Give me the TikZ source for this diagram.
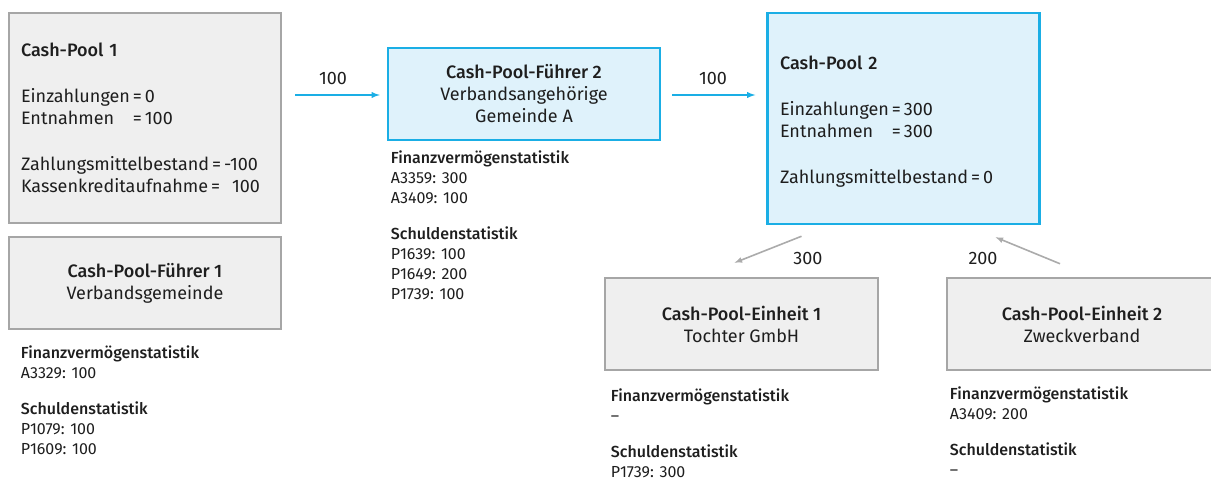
\documentclass[tikz,border=0pt]{standalone}
\usepackage{fontspec}
\setmainfont{Fira Sans}[BoldFont={Fira Sans Medium}]
\usetikzlibrary{positioning}

\definecolor{poolblue}{HTML}{1AAEE5}
\definecolor{poolbluefill}{HTML}{DFF2FB}
\definecolor{poolgray}{HTML}{A6A6A6}
\definecolor{poolgrayfill}{HTML}{EFEFEF}
\definecolor{arrowgray}{HTML}{ABABAB}
\definecolor{txtcol}{HTML}{1E1E1E}

\newcommand{\cpboxfont}{\fontsize{18}{22}\selectfont}
\newcommand{\cpstatfont}{\fontsize{16}{20}\selectfont}

\begin{document}
\begin{tikzpicture}[x=1pt, y=-1pt,
    every node/.style={text=txtcol},
    graybox/.style={draw=poolgray, fill=poolgrayfill, line width=2.5pt,
      minimum width=272pt, minimum height=92pt, font=\cpboxfont, align=center},
    bluebox/.style={graybox, draw=poolblue, fill=poolbluefill},
    poolbox/.style={align=left, inner xsep=12pt, minimum height=210pt},
    stat/.style={anchor=north west, align=left, inner sep=0pt, font=\cpstatfont},
    flow/.style={->, >=latex, poolblue, line width=1.8pt},
    back/.style={->, >=latex, arrowgray, line width=1.6pt},
    amount/.style={font=\cpboxfont}]

    \useasboundingbox (0,0) rectangle (1211,479);

    % Cash-Pool 1 and its leader
    \node[graybox, poolbox, text width=248pt] (cp1) at (145,118)
      {\textbf{Cash-Pool 1}\\[24pt]
       Einzahlungen\,=\,0\\
       \leavevmode\rlap{Entnahmen}\hphantom{Einzahlungen}\,=\,100\\[24pt]
       Zahlungsmittelbestand\,=\,-100\\
       Kassenkreditaufnahme\,=\ \ 100};
    \node[graybox] (cpf1) at (145,283)
      {\textbf{Cash-Pool-Führer 1}\\Verbandsgemeinde};
    \node[stat, below right=15pt and 13pt of cpf1.south west] (cpf1stat)
      {\textbf{Finanzvermögenstatistik}\\A3329: 100\\[16pt]
       \textbf{Schuldenstatistik}\\P1079: 100\\P1609: 100};

    % Cash-Pool-Fuehrer 2
    \node[bluebox] (cpf2) at (524,94)
      {\textbf{Cash-Pool-Führer 2}\\Verbandsangehörige\\Gemeinde A};
    \node[stat, below right=9pt and 4pt of cpf2.south west] (cpf2stat)
      {\textbf{Finanzvermögenstatistik}\\A3359: 300\\A3409: 100\\[16pt]
       \textbf{Schuldenstatistik}\\P1639: 100\\P1649: 200\\P1739: 100};

    % Cash-Pool 2
    \node[bluebox, poolbox, text width=247pt, minimum height=211pt] (cp2) at (903.5,118.5)
      {\rule{0pt}{20pt}\textbf{Cash-Pool 2}\\[24pt]
       Einzahlungen\,=\,300\\
       \leavevmode\rlap{Entnahmen}\hphantom{Einzahlungen}\,=\,300\\[24pt]
       Zahlungsmittelbestand\,=\,0};

    % Cash-Pool-Einheiten
    \node[graybox, minimum width=273pt] (cpe1) at (741.5,324)
      {\textbf{Cash-Pool-Einheit 1}\\Tochter GmbH};
    \node[stat, below right=17pt and 7pt of cpe1.south west] (cpe1stat)
      {\textbf{Finanzvermögenstatistik}\\–\\[16pt]
       \textbf{Schuldenstatistik}\\P1739: 300};
    \node[graybox, minimum width=270pt] (cpe2) at (1082,324)
      {\textbf{Cash-Pool-Einheit 2}\\Zweckverband};
    \node[stat, below right=15pt and 4pt of cpe2.south west] (cpe2stat)
      {\textbf{Finanzvermögenstatistik}\\A3409: 200\\[16pt]
       \textbf{Schuldenstatistik}\\–};

    % Flows
    \draw[flow, shorten <=13pt, shorten >=7pt] (cp1.east |- 0,95) -- (cpf2.west |- 0,95);
    \node[amount] (a1) at (333,78) {100};
    \draw[flow, shorten <=11pt, shorten >=11pt] (cpf2.east |- 0,95) -- (cp2.west |- 0,95);
    \node[amount] (a2) at (713,78) {100};

    \draw[back] ([xshift=-102pt, yshift=-11pt]cp2.south) -- ([xshift=-7pt, yshift=14pt]cpe1.north);
    \node[amount] (a3) at (808,258) {300};
    \draw[back] ([xshift=-22pt, yshift=13pt]cpe2.north) -- ([xshift=92pt, yshift=-12pt]cp2.south);
    \node[amount] (a4) at (983,258) {200};

\end{tikzpicture}
\end{document}
